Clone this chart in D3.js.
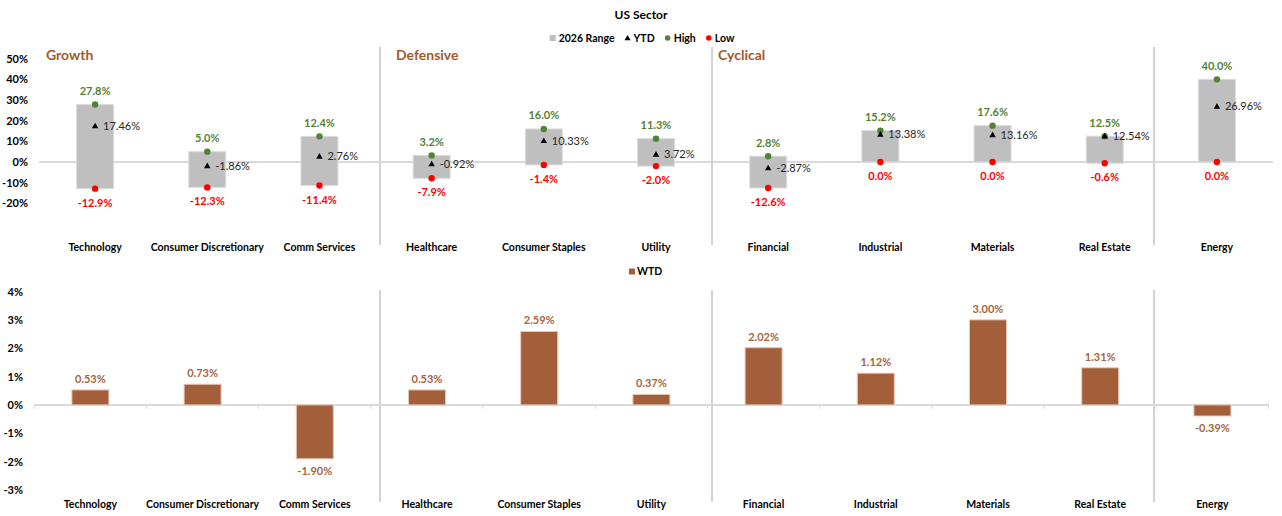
<!DOCTYPE html>
<html>
  <head>
    <meta charset="utf-8">
    <title>US Sector</title>
    <style>
    body { margin: 0; background: #fff; }
    svg { font-family: Lato, "Open Sans", sans-serif; }
    </style>
  </head>
  <body>
    <script src="https://d3js.org/d3.v7.min.js"></script>
    <script>
      // Datos
      var sectors = ["Technology", "Consumer Discretionary", "Comm Services", "Healthcare",
        "Consumer Staples", "Utility", "Financial", "Industrial", "Materials", "Real Estate", "Energy"];
      var high = [27.8, 5.0, 12.4, 3.2, 16.0, 11.3, 2.8, 15.2, 17.6, 12.5, 40.0];
      var low  = [-12.9, -12.3, -11.4, -7.9, -1.4, -2.0, -12.6, 0.0, 0.0, -0.6, 0.0];
      var ytd  = [17.46, -1.86, 2.76, -0.92, 10.33, 3.72, -2.87, 13.38, 13.16, 12.54, 26.96];
      var wtd  = [0.53, 0.73, -1.90, 0.53, 2.59, 0.37, 2.02, 1.12, 3.00, 1.31, -0.39];
      var groups = ["Growth", "Defensive", "Cyclical"];
      var legendItems = ["2026 Range", "YTD", "High", "Low"];
      var topTicks = [50, 40, 30, 20, 10, 0, -10, -20];
      var bottomTicks = [4, 3, 2, 1, 0, -1, -2, -3];

      // Posiciones de maqueta (lineas separadoras dibujadas a mano en el original)
      var dividerX = [380, 712, 1154];
      var groupLabelX = [46, 396, 718];

      var width = 1282, height = 516;
      var green = "#548235", red = "#ff0000", brown = "#a35f3a", brownText = "#a9643c";

      var svg = d3.select("body").append("svg")
        .attr("width", width)
        .attr("height", height);

      // Escalas
      var xTop = d3.scaleBand().domain(sectors).range([39, 1273]);
      var xBot = d3.scaleBand().domain(sectors).range([34.3, 1268.5]);
      var yTop = d3.scaleLinear().domain([-20, 50]).range([203.3, 58.7]);
      var yBot = d3.scaleLinear().domain([-3, 4]).range([490, 291.5]);
      var barW = 37;

      // Titulo
      svg.append("text")
        .attr("x", 641).attr("y", 19)
        .attr("text-anchor", "middle")
        .attr("font-size", "12px").attr("font-weight", "bold")
        .text("US Sector");

      // Leyenda superior: se colocan los elementos uno tras otro
      var lg = svg.append("g").attr("font-size", "10.5px").attr("font-weight", "bold");
      var lx = 0;
      legendItems.forEach(function(name, i) {
        var g = lg.append("g").attr("transform", "translate(" + lx + ",0)");
        if (i === 0) g.append("rect").attr("x", 0).attr("y", -3).attr("width", 6).attr("height", 6).attr("fill", "#bfbfbf");
        if (i === 1) g.append("path").attr("d", d3.symbol(d3.symbolTriangle, 16)()).attr("transform", "translate(3,0.5)").attr("fill", "#000");
        if (i === 2) g.append("circle").attr("cx", 3).attr("cy", 0).attr("r", 2.8).attr("fill", green);
        if (i === 3) g.append("circle").attr("cx", 3).attr("cy", 0).attr("r", 2.8).attr("fill", red);
        var t = g.append("text").attr("x", 9).attr("y", 4).text(name);
        lx += 9 + t.node().getComputedTextLength() + 10;
      });
      lg.attr("transform", "translate(" + (642 - (lx - 10) / 2) + ",38)");

      // Separadores
      dividerX.forEach(function(x) {
        svg.append("line").attr("x1", x).attr("x2", x).attr("y1", 47).attr("y2", 245)
          .attr("stroke", "#a6a6a6").attr("stroke-width", 1);
        svg.append("line").attr("x1", x).attr("x2", x).attr("y1", 290).attr("y2", 502)
          .attr("stroke", "#a6a6a6").attr("stroke-width", 1);
      });

      // Etiquetas de grupos
      svg.selectAll(".group").data(groups).enter().append("text")
        .attr("x", function(d, i) { return groupLabelX[i]; })
        .attr("y", 60)
        .attr("font-size", "14px").attr("font-weight", "bold")
        .attr("fill", "#a5592a")
        .text(function(d) { return d; });

      // ===== Grafico superior =====
      var topG = svg.append("g");
      topG.selectAll(".ytick").data(topTicks).enter().append("text")
        .attr("x", 28).attr("y", function(d) { return yTop(d) + 4; })
        .attr("text-anchor", "end")
        .attr("font-size", "11px").attr("font-weight", "bold")
        .text(function(d) { return d + "%"; });

      topG.append("line")
        .attr("x1", xTop.range()[0]).attr("x2", xTop.range()[1])
        .attr("y1", yTop(0)).attr("y2", yTop(0))
        .attr("stroke", "#d9d9d9").attr("stroke-width", 2);

      var cT = function(i) { return xTop(sectors[i]) + xTop.bandwidth() / 2; };

      topG.selectAll(".range").data(sectors).enter().append("rect")
        .attr("x", function(d, i) { return cT(i) - barW / 2; })
        .attr("y", function(d, i) { return yTop(high[i]); })
        .attr("width", barW)
        .attr("height", function(d, i) { return yTop(low[i]) - yTop(high[i]); })
        .attr("fill", "#bfbfbf")
        .attr("stroke", "#dcdcdc").attr("stroke-width", 1);

      topG.selectAll(".hi").data(high).enter().append("circle")
        .attr("cx", function(d, i) { return cT(i); })
        .attr("cy", function(d) { return yTop(d); })
        .attr("r", 3.2).attr("fill", green);

      topG.selectAll(".lo").data(low).enter().append("circle")
        .attr("cx", function(d, i) { return cT(i); })
        .attr("cy", function(d) { return yTop(d); })
        .attr("r", 3.2).attr("fill", red);

      topG.selectAll(".ytd").data(ytd).enter().append("path")
        .attr("d", d3.symbol(d3.symbolTriangle, 18)())
        .attr("transform", function(d, i) { return "translate(" + cT(i) + "," + (yTop(d) + 0.5) + ")"; })
        .attr("fill", "#000");

      topG.selectAll(".ytdlab").data(ytd).enter().append("text")
        .attr("x", function(d, i) { return cT(i) + 8; })
        .attr("y", function(d) { return yTop(d) + 4; })
        .attr("font-size", "11px").attr("fill", "#262626")
        .text(function(d) { return d.toFixed(2) + "%"; });

      topG.selectAll(".hilab").data(high).enter().append("text")
        .attr("x", function(d, i) { return cT(i); })
        .attr("y", function(d) { return yTop(d) - 9.5; })
        .attr("text-anchor", "middle")
        .attr("font-size", "11px").attr("font-weight", "bold").attr("fill", green)
        .text(function(d) { return d.toFixed(1) + "%"; });

      topG.selectAll(".lolab").data(low).enter().append("text")
        .attr("x", function(d, i) { return cT(i); })
        .attr("y", function(d) { return yTop(d) + 18; })
        .attr("text-anchor", "middle")
        .attr("font-size", "11px").attr("font-weight", "bold").attr("fill", red)
        .text(function(d) { return d.toFixed(1) + "%"; });

      topG.selectAll(".cat").data(sectors).enter().append("text")
        .attr("x", function(d, i) { return cT(i); })
        .attr("y", 251)
        .attr("text-anchor", "middle")
        .attr("font-size", "10.5px").attr("font-weight", "bold")
        .text(function(d) { return d; });

      // ===== Grafico inferior =====
      var botG = svg.append("g");

      botG.append("rect").attr("x", 629).attr("y", 268.5).attr("width", 6).attr("height", 6).attr("fill", brown);
      botG.append("text").attr("x", 637).attr("y", 275)
        .attr("font-size", "10.5px").attr("font-weight", "bold").text("WTD");

      botG.selectAll(".ytick").data(bottomTicks).enter().append("text")
        .attr("x", 23).attr("y", function(d) { return yBot(d) + 4; })
        .attr("text-anchor", "end")
        .attr("font-size", "11px").attr("font-weight", "bold")
        .text(function(d) { return d + "%"; });

      var axisG = botG.append("g")
        .attr("transform", "translate(0," + yBot(0) + ")");
      axisG.append("line")
        .attr("x1", xBot.range()[0]).attr("x2", xBot.range()[1])
        .attr("stroke", "#d9d9d9").attr("stroke-width", 2);
      // marcas en los limites de cada categoria
      var bounds = sectors.map(function(d) { return xBot(d); }).concat([xBot.range()[1]]);
      axisG.selectAll(".tk").data(bounds).enter().append("line")
        .attr("x1", function(d) { return d; }).attr("x2", function(d) { return d; })
        .attr("y1", 0).attr("y2", 4)
        .attr("stroke", "#d9d9d9").attr("stroke-width", 1);

      var cB = function(i) { return xBot(sectors[i]) + xBot.bandwidth() / 2; };

      botG.selectAll(".bar").data(wtd).enter().append("rect")
        .attr("x", function(d, i) { return cB(i) - barW / 2; })
        .attr("y", function(d) { return yBot(Math.max(0, d)); })
        .attr("width", barW)
        .attr("height", function(d) { return Math.abs(yBot(d) - yBot(0)); })
        .attr("fill", brown)
        .attr("stroke", "#e6c9b8").attr("stroke-width", 1);

      botG.selectAll(".barlab").data(wtd).enter().append("text")
        .attr("x", function(d, i) { return cB(i); })
        .attr("y", function(d) { return d >= 0 ? yBot(d) - 7 : yBot(d) + 16; })
        .attr("text-anchor", "middle")
        .attr("font-size", "11px").attr("font-weight", "bold").attr("fill", brownText)
        .text(function(d) { return d.toFixed(2) + "%"; });

      botG.selectAll(".cat").data(sectors).enter().append("text")
        .attr("x", function(d, i) { return cB(i); })
        .attr("y", 508)
        .attr("text-anchor", "middle")
        .attr("font-size", "10.5px").attr("font-weight", "bold")
        .text(function(d) { return d; });
    </script>
  </body>
</html>
